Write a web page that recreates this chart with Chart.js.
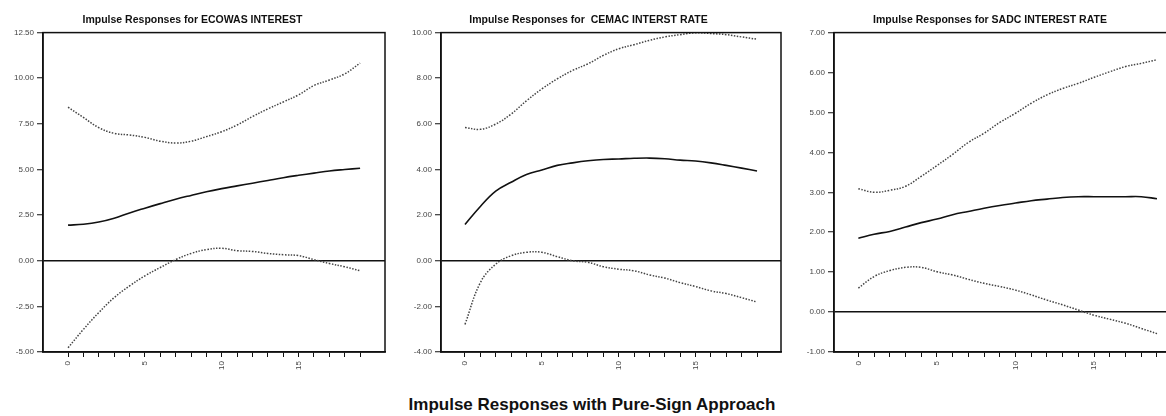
<!DOCTYPE html>
<html>
<head>
<meta charset="utf-8">
<script src="https://cdn.jsdelivr.net/npm/chart.js@4.4.0/dist/chart.umd.min.js"></script>
<style>
    body { margin: 0; background: #fff; width: 1166px; height: 416px; overflow: hidden; position: relative; }
    .panel { position: absolute; top: 0; height: 380px; }
    #mainTitle {
        position: absolute; left: 0; width: 1184px; top: 395px;
        text-align: center; font: bold 17px "Liberation Sans", Arial, sans-serif; color: #111;
    }
</style>
</head>
<body>
<div class="panel" style="left:0px;width:390px"><canvas id="ecowasChart" width="390" height="380"></canvas></div>
<div class="panel" style="left:396px;width:390px"><canvas id="cemacChart" width="390" height="380"></canvas></div>
<div class="panel" style="left:790px;width:400px"><canvas id="sadcChart" width="400" height="380"></canvas></div>
<div id="mainTitle">Impulse Responses with Pure-Sign Approach</div>

<script>
// horizon (periods)
const horizon = [0, 1, 2, 3, 4, 5, 6, 7, 8, 9, 10, 11, 12, 13, 14, 15, 16, 17, 18, 19];
const xTickLabels = [0, 5, 10, 15];

// ECOWAS
const ecowasMid = [1.95, 2.0, 2.12, 2.33, 2.62, 2.88, 3.13, 3.37, 3.58, 3.78, 3.95, 4.1, 4.25, 4.4, 4.55, 4.68, 4.8, 4.92, 5.0, 5.07];
const ecowasUpper = [8.41, 7.85, 7.29, 6.98, 6.89, 6.76, 6.55, 6.45, 6.55, 6.8, 7.07, 7.44, 7.9, 8.32, 8.7, 9.09, 9.6, 9.9, 10.24, 10.83];
const ecowasLower = [-4.77, -3.76, -2.84, -2.02, -1.38, -0.83, -0.37, 0.06, 0.4, 0.61, 0.68, 0.55, 0.51, 0.4, 0.33, 0.28, 0.06, -0.15, -0.33, -0.55];
const ecowasTicks = [-5, -2.5, 0, 2.5, 5, 7.5, 10, 12.5];

// CEMAC
const cemacMid = [1.59, 2.38, 3.05, 3.44, 3.78, 3.98, 4.18, 4.29, 4.38, 4.44, 4.46, 4.49, 4.5, 4.47, 4.41, 4.37, 4.29, 4.18, 4.06, 3.93];
const cemacUpper = [5.84, 5.76, 5.99, 6.43, 7.01, 7.53, 7.97, 8.34, 8.63, 9.0, 9.29, 9.47, 9.66, 9.81, 9.91, 9.99, 9.96, 9.91, 9.81, 9.71];
const cemacLower = [-2.79, -0.96, -0.15, 0.22, 0.37, 0.37, 0.18, 0.0, -0.07, -0.26, -0.37, -0.44, -0.62, -0.76, -0.96, -1.13, -1.32, -1.44, -1.62, -1.81];
const cemacTicks = [-4, -2, 0, 2, 4, 6, 8, 10];

// SADC
const sadcMid = [1.85, 1.95, 2.02, 2.13, 2.24, 2.33, 2.44, 2.52, 2.6, 2.67, 2.73, 2.79, 2.83, 2.87, 2.89, 2.89, 2.89, 2.89, 2.89, 2.84];
const sadcUpper = [3.09, 3.0, 3.05, 3.15, 3.4, 3.67, 3.95, 4.25, 4.48, 4.75, 4.98, 5.23, 5.44, 5.6, 5.73, 5.88, 6.02, 6.15, 6.23, 6.32];
const sadcLower = [0.6, 0.89, 1.04, 1.12, 1.12, 1.01, 0.93, 0.82, 0.72, 0.64, 0.55, 0.43, 0.3, 0.18, 0.05, -0.08, -0.18, -0.28, -0.41, -0.54];
const sadcTicks = [-1, 0, 1, 2, 3, 4, 5, 6, 7];

const FONT = '"Liberation Sans", Arial, sans-serif';

// box around the plot area
const framePlugin = {
    id: 'frame',
    afterDatasetsDraw(chart) {
        const a = chart.chartArea;
        const c = chart.ctx;
        c.save();
        c.strokeStyle = '#111';
        c.lineWidth = 1.5;
        c.strokeRect(a.left, a.top, a.right - a.left, a.bottom - a.top);
        c.restore();
    }
};

function toPoints(values) {
    return values.map((v, i) => ({ x: horizon[i], y: v }));
}

function makeChart(id, title, mid, upper, lower, yTicks, opts) {
    const dotted = {
        borderColor: '#444',
        borderWidth: 1.5,
        borderDash: [1.5, 1.5],
        pointRadius: 0,
        tension: 0.4,
        fill: false
    };
    new Chart(document.getElementById(id), {
        type: 'line',
        data: {
            datasets: [
                Object.assign({ data: toPoints(upper) }, dotted),
                {
                    data: toPoints(mid),
                    borderColor: '#111',
                    borderWidth: 1.6,
                    pointRadius: 0,
                    tension: 0.4,
                    fill: false
                },
                Object.assign({ data: toPoints(lower) }, dotted)
            ]
        },
        options: {
            responsive: false,
            animation: false,
            layout: { padding: { left: 0, right: opts.padRight, top: 0, bottom: 0 } },
            plugins: {
                legend: { display: false },
                tooltip: { enabled: false },
                title: {
                    display: true,
                    text: title,
                    color: '#111',
                    font: { family: FONT, size: 10.5, weight: 'bold' },
                    padding: { top: 14, bottom: 6 }
                }
            },
            scales: {
                x: {
                    type: 'linear',
                    min: opts.xMin,
                    max: opts.xMax,
                    afterBuildTicks: (scale) => {
                        scale.ticks = horizon.map(v => ({ value: v }));
                    },
                    afterFit: (scale) => { scale.height = 28; },
                    border: { display: true, color: '#111', width: 1.5 },
                    grid: {
                        drawOnChartArea: false,
                        tickColor: '#111',
                        tickLength: 5,
                        tickWidth: 1
                    },
                    ticks: {
                        autoSkip: false,
                        minRotation: 90,
                        maxRotation: 90,
                        padding: 4,
                        color: '#444',
                        font: { family: FONT, size: 8 },
                        callback: (v) => xTickLabels.includes(v) ? String(v) : ''
                    }
                },
                y: {
                    type: 'linear',
                    min: yTicks[0],
                    max: yTicks[yTicks.length - 1],
                    afterBuildTicks: (scale) => {
                        scale.ticks = yTicks.map(v => ({ value: v }));
                    },
                    afterFit: (scale) => { scale.width = opts.yWidth; },
                    border: { display: true, color: '#111', width: 1.5 },
                    grid: {
                        drawOnChartArea: true,
                        color: (ctx) => ctx.tick && ctx.tick.value === 0 ? '#111' : 'rgba(0,0,0,0)',
                        lineWidth: 1.5,
                        tickColor: '#111',
                        tickLength: 6,
                        tickWidth: 1
                    },
                    ticks: {
                        padding: 3,
                        color: '#444',
                        font: { family: FONT, size: 8 },
                        callback: (v) => Number(v).toFixed(2)
                    }
                }
            }
        },
        plugins: [framePlugin]
    });
}

makeChart('ecowasChart', 'Impulse Responses for ECOWAS INTEREST', ecowasMid, ecowasUpper, ecowasLower, ecowasTicks,
    { xMin: -1.63, xMax: 20.62, yWidth: 43, padRight: 5 });
makeChart('cemacChart', 'Impulse Responses for  CEMAC INTERST RATE', cemacMid, cemacUpper, cemacLower, cemacTicks,
    { xMin: -1.56, xMax: 20.56, yWidth: 45, padRight: 5 });
makeChart('sadcChart', 'Impulse Responses for SADC INTEREST RATE', sadcMid, sadcUpper, sadcLower, sadcTicks,
    { xMin: -1.55, xMax: 21.1, yWidth: 44, padRight: 0 });
</script>
</body>
</html>
